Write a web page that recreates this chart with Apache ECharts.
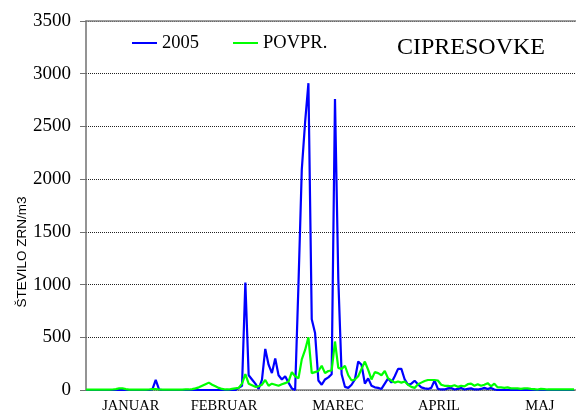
<!DOCTYPE html>
<html>
<head>
<meta charset="utf-8">
<script src="https://cdn.jsdelivr.net/npm/echarts@6/dist/echarts.min.js"></script>
<style>
html,body{margin:0;padding:0;background:#fff;}
#chart{width:576px;height:414px;}
</style>
</head>
<body>
<div id="chart"></div>
<script>
// Daily pollen counts (index 0 = 1 January)
const s2005 = [
  0,0,0,0,0,0,0,0,0,0, 0,0,0,0,0,0,0,0,0,0,
  5,95,5,0,0,0,0,0,0,0, 0,0,0,0,0,0,0,0,0,0,
  0,0,0,0,0,0,20,40,1020,140, 100,60,10,95,390,240,160,300,140,100,
  130,70,15,0,1000,2090,2540,2910,670,540, 90,50,100,120,150,2760,1050,150,30,20,
  50,100,270,240,60,110,40,25,20,10, 60,110,70,130,200,200,100,50,60,88,
  55,25,15,10,20,90,10,5,5,15, 20,5,10,20,5,10,15,5,5,10,
  20,10,20,5,0,0,0,0,0,0, 0,0,0,0,0,0,0,0,0,0,
  0,0,0,0,0,0,0,0
];
const sAvg = [
  3,3,3,3,3,3,3,3,5,8, 15,15,8,4,3,3,3,3,3,5,
  8,8,5,3,3,3,3,3,3,4, 5,5,8,15,25,40,55,70,50,35,
  20,10,5,5,10,15,20,60,150,60, 45,30,35,50,95,40,60,50,40,55,
  65,80,170,130,110,290,380,500,160,170, 180,230,160,180,185,460,210,200,230,140,
  90,100,130,200,270,190,100,170,160,140, 180,110,90,70,80,70,80,50,30,20,
  55,70,85,95,95,95,90,50,40,40, 35,45,30,40,35,55,60,40,55,40,
  50,65,35,60,25,25,20,25,15,15, 15,10,15,15,10,8,5,10,8,5,
  5,5,5,5,5,5,5,5
];
const seriesNames = ['2005', 'POVPR.'];
const monthNames = ['JANUAR', 'FEBRUAR', 'MAREC', 'APRIL', 'MAJ'];
const monthPos = [13.5, 41.6, 75.9, 106.3, 136.7];
const yTicks = [0, 500, 1000, 1500, 2000, 2500, 3000, 3500];

const chart = echarts.init(document.getElementById('chart'), null, {renderer: 'canvas'});
const serif = 'Liberation Serif';
chart.setOption({
  animation: false,
  backgroundColor: '#fff',
  grid: {left: 86, right: 0, top: 21, bottom: 24},
  legend: {
    left: 132, top: 33, padding: 0,
    icon: 'rect', itemWidth: 25, itemHeight: 2, itemGap: 34,
    textStyle: {fontFamily: serif, fontSize: 18.5, color: '#000', lineHeight: 20},
    data: seriesNames
  },
  graphic: [
    {type: 'text', x: 397, y: 48, style: {text: 'CIPRESOVKE', font: '24px "Liberation Serif"', fill: '#000', textVerticalAlign: 'middle'}},
    {type: 'text', x: 22, y: 252, rotation: Math.PI / 2,
     style: {text: 'ŠTEVILO ZRN/m3', font: '13.5px "Liberation Sans"', fill: '#000', textAlign: 'center', textVerticalAlign: 'middle'}}
  ],
  xAxis: [
    {
      type: 'value', min: 0, max: 147.6,
      axisLine: {show: true, lineStyle: {color: '#808080', width: 1.5}},
      axisTick: {show: false},
      splitLine: {show: false},
      axisLabel: {
        customValues: monthPos,
        formatter: v => monthNames[monthPos.indexOf(v)] || '',
        fontFamily: serif, fontSize: 14.5, color: '#000', margin: 9
      }
    },
    {
      type: 'value', position: 'top', min: 0, max: 147.6,
      axisLine: {show: true, lineStyle: {color: '#808080', width: 1.5}},
      axisTick: {show: false}, axisLabel: {show: false}, splitLine: {show: false}
    }
  ],
  yAxis: {
    type: 'value', min: yTicks[0], max: yTicks[yTicks.length - 1], interval: 500,
    axisLine: {show: true, lineStyle: {color: '#707070', width: 1.5}},
    axisTick: {show: true, inside: false, length: 6, lineStyle: {color: '#707070'}},
    axisLabel: {fontFamily: serif, fontSize: 19, color: '#000', margin: 15, formatter: v => String(v)},
    splitLine: {show: true, lineStyle: {color: '#222', type: 'dotted', width: 1}}
  },
  series: [
    {name: seriesNames[0], type: 'line', xAxisIndex: 0, showSymbol: false, symbol: 'none',
     color: '#0000FF', lineStyle: {color: '#0000FF', width: 2.2},
     data: s2005.map((v, i) => [i, v])},
    {name: seriesNames[1], type: 'line', xAxisIndex: 0, showSymbol: false, symbol: 'none',
     color: '#00FF00', lineStyle: {color: '#00FF00', width: 2.2},
     data: sAvg.map((v, i) => [i, v])}
  ]
});
</script>
</body>
</html>
